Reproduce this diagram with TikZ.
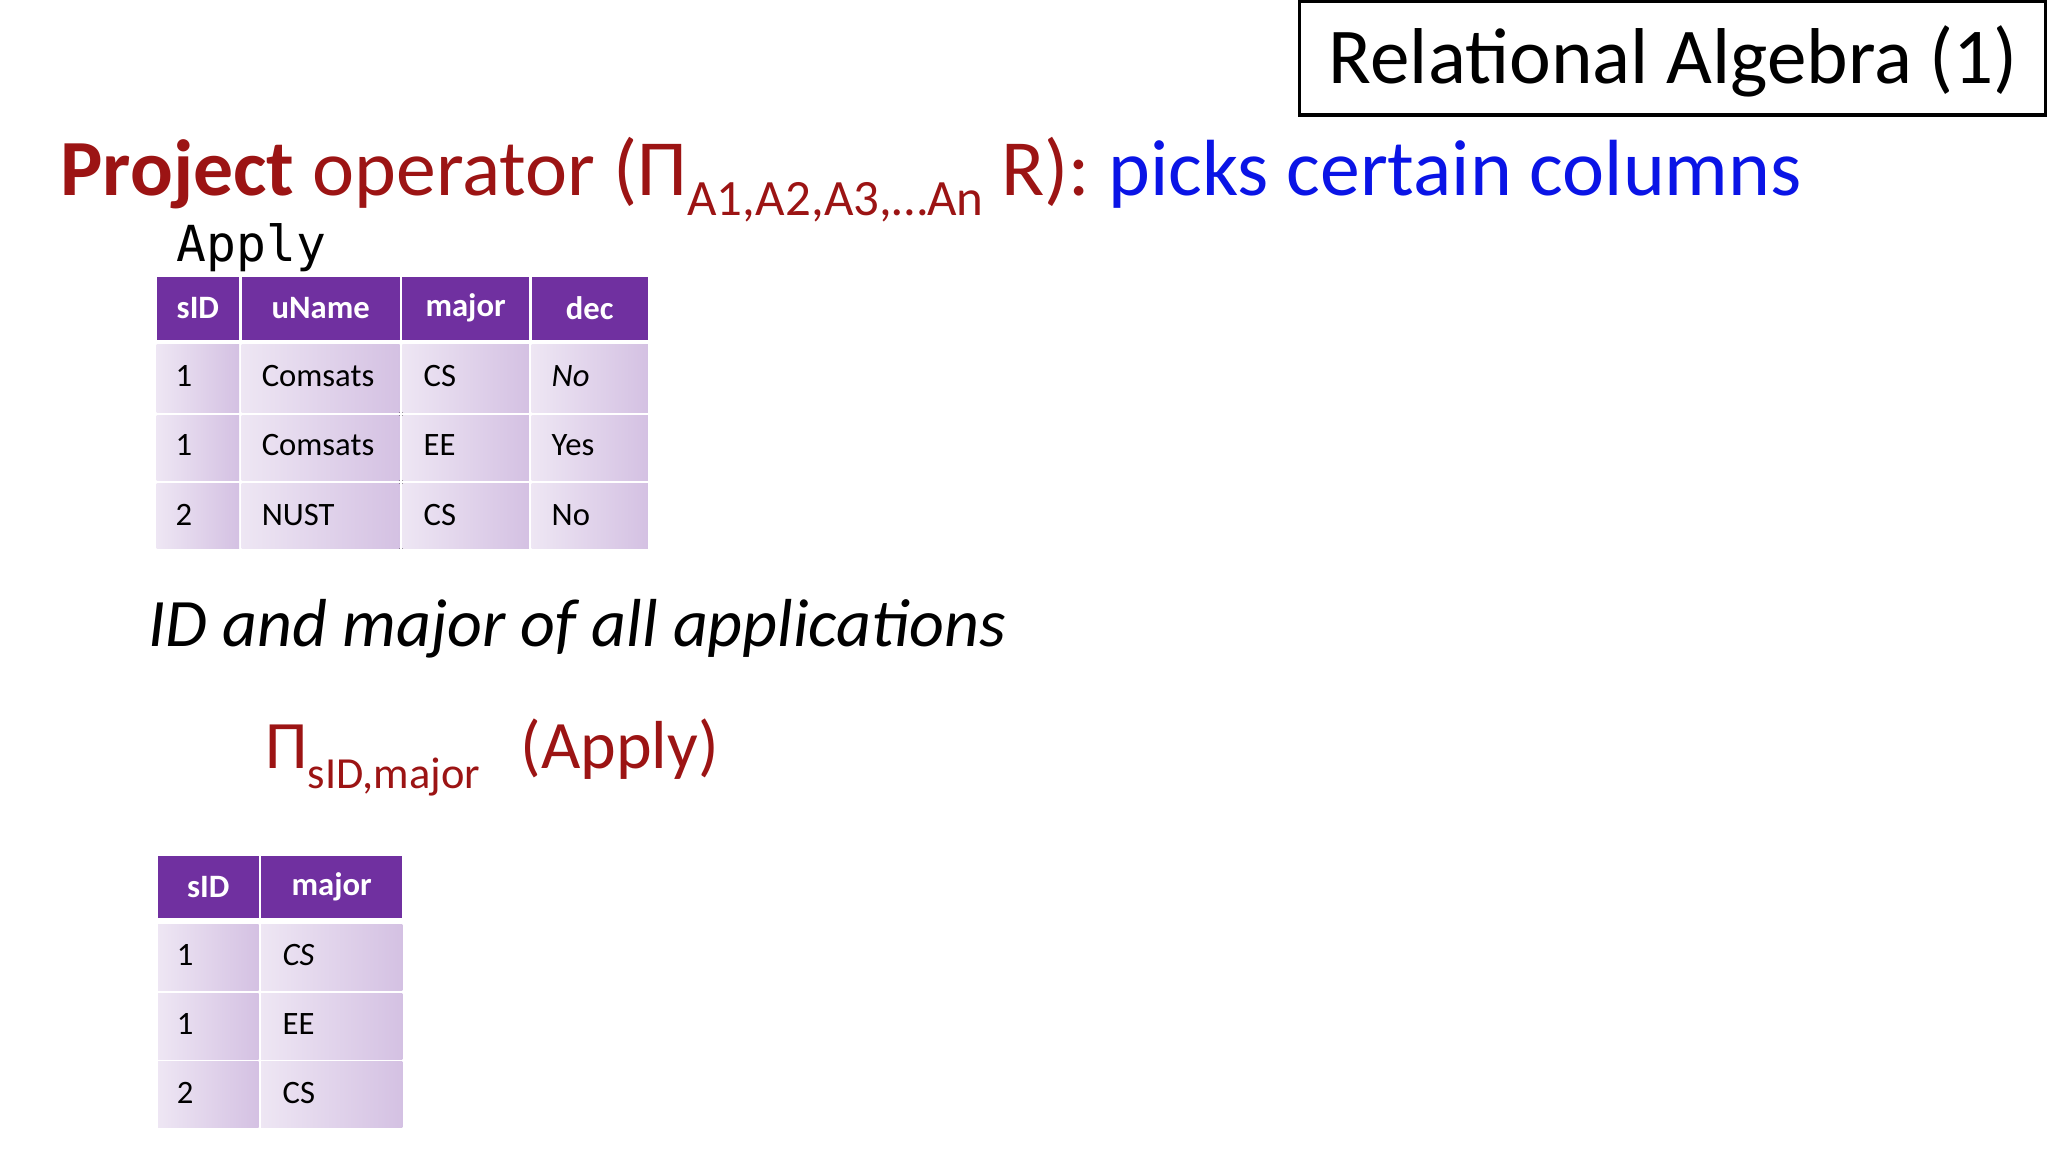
\documentclass[tikz,border=0pt]{standalone}
\usepackage{fontspec}
\setmainfont{Carlito}
\setmonofont{DejaVu Sans Mono}
\definecolor{dred}{HTML}{9C1414}
\definecolor{pur}{HTML}{7030A0}
\definecolor{blu}{HTML}{0A14E6}
\begin{document}
\begin{tikzpicture}[x=0.5pt,y=-0.5pt,
  txt/.style={inner sep=0,anchor=base west},
  hd/.style={fill=pur},
  cellbox/.style={left color=pur!12,right color=pur!30}]
\useasboundingbox (0,0) rectangle (1568,882);
\fill[white] (0,0) rectangle (1568,882);
\draw[line width=1.2pt] (995,1) rectangle (1566,88);
\node[txt,font=\fontsize{30.3}{32}\selectfont] (title) at (1017,64) {Relational Algebra (1)};
\node[txt,font=\fontsize{30.5}{33}\selectfont,text=dred] (head) at (46,150)
  {\textbf{Project} operator (Π\raisebox{-0.25em}{\fontsize{19.5}{22}\selectfont A1,A2,A3,…An} R): \textcolor{blu}{picks certain columns}};
\node[txt,font=\ttfamily\fontsize{19}{21}\selectfont] (apply) at (135,200) {Apply};
% table 1
\foreach \xa/\xb/\t/\c in {120/183/sID/1, 185/306/uName/2, 308/405/major/3, 407/496/dec/4}{
  \fill[hd] (\xa,212) rectangle (\xb,260);
  \node[font=\bfseries\fontsize{12.5}{14}\selectfont,text=white,inner sep=0] (h1\c) at ({(\xa+\xb)/2},236) {\t};
}
\foreach \ya/\yb/\r in {264/316/1, 318/368/2, 370/420/3}{
  \foreach \xa/\xb in {120/183, 185/306, 308/405, 407/496}{
    \fill[cellbox] (\xa,\ya) rectangle (\xb,\yb);
  }
}
\tikzset{ct/.style={inner sep=0,anchor=base west,font=\fontsize{12.5}{14}\selectfont}}
\node[ct] (a11) at (134,296) {1}; \node[ct] (a12) at (200,296) {Comsats}; \node[ct] (a13) at (324,296) {CS}; \node[ct] (a14) at (422,296) {\itshape No};
\node[ct] (a21) at (134,349) {1}; \node[ct] (a22) at (200,349) {Comsats}; \node[ct] (a23) at (324,349) {EE}; \node[ct] (a24) at (422,349) {Yes};
\node[ct] (a31) at (134,402) {2}; \node[ct] (a32) at (200,402) {NUST}; \node[ct] (a33) at (324,402) {CS}; \node[ct] (a34) at (422,402) {No};
\node[txt,font=\itshape\fontsize{26}{28}\selectfont] (desc) at (113,495) {ID and major of all applications};
\node[txt,font=\fontsize{26}{28}\selectfont,text=dred] (expr) at (203,588)
  {Π\raisebox{-0.3em}{\fontsize{17}{19}\selectfont sID,major}\hspace{0.6em}(Apply)};
% table 2
\foreach \xa/\xb/\t/\c in {121/198/sID/1, 200/308/major/2}{
  \fill[hd] (\xa,655) rectangle (\xb,703);
  \node[font=\bfseries\fontsize{12.5}{14}\selectfont,text=white,inner sep=0] (h2\c) at ({(\xa+\xb)/2},679) {\t};
}
\foreach \ya/\yb in {708/758, 761/811, 813/863}{
  \foreach \xa/\xb in {121/198, 200/308}{
    \fill[cellbox] (\xa,\ya) rectangle (\xb,\yb);
  }
}
\node[ct] (b11) at (135,739) {1}; \node[ct] (b12) at (216,739) {\itshape CS};
\node[ct] (b21) at (135,792) {1}; \node[ct] (b22) at (216,792) {EE};
\node[ct] (b31) at (135,845) {2}; \node[ct] (b32) at (216,845) {CS};
\end{tikzpicture}
\end{document}
